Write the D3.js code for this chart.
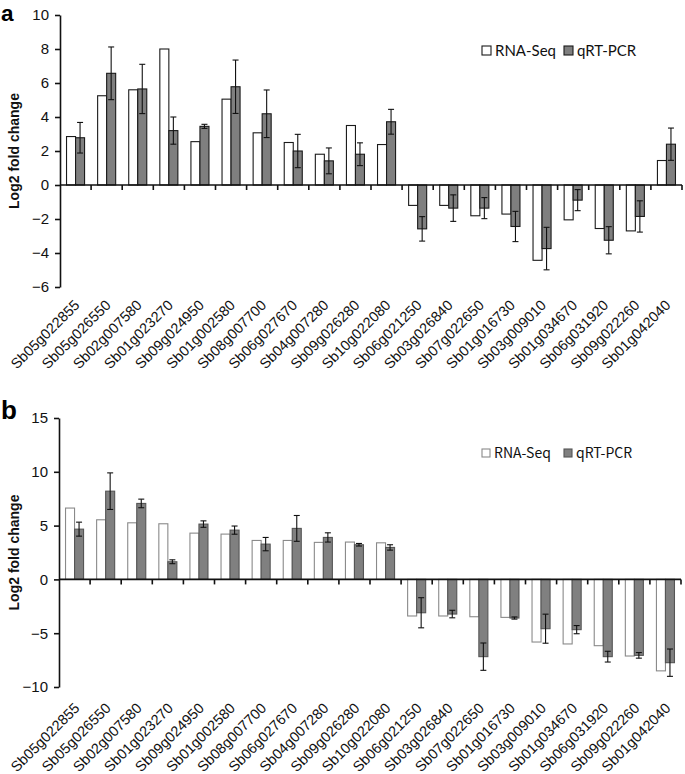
<!DOCTYPE html>
<html><head><meta charset="utf-8">
<script src="https://cdn.jsdelivr.net/npm/d3@7"></script>
<style>body{margin:0;background:#fff}</style>
</head><body>
<script>
const categories = ["Sb05g022855","Sb05g026550","Sb02g007580","Sb01g023270","Sb09g024950","Sb01g002580","Sb08g007700","Sb06g027670","Sb04g007280","Sb09g026280","Sb10g022080","Sb06g021250","Sb03g026840","Sb07g022650","Sb01g016730","Sb03g009010","Sb01g034670","Sb06g031920","Sb09g022260","Sb01g042040"];
const seriesNames = ["RNA-Seq","qRT-PCR"];
// Panel a
const rnaSeqA = [2.85,5.25,5.6,8.0,2.55,5.05,3.07,2.5,1.81,3.5,2.38,-1.2,-1.2,-1.81,-1.71,-4.43,-2.05,-2.56,-2.7,1.44];
const qpcrA   = [2.78,6.57,5.65,3.2,3.45,5.78,4.19,2.0,1.42,1.81,3.72,-2.58,-1.36,-1.36,-2.44,-3.74,-0.89,-3.25,-1.85,2.4];
const qpcrErrA= [0.9,1.55,1.45,0.8,0.12,1.57,1.4,0.98,0.76,0.67,0.73,0.72,0.78,0.62,0.89,1.25,0.62,0.8,0.92,0.95];
const yTicksA = [-6,-4,-2,0,2,4,6,8,10];
// Panel b
const rnaSeqB = [6.63,5.54,5.26,5.17,4.3,4.21,3.62,3.62,3.44,3.47,3.4,-3.4,-3.4,-3.47,-3.53,-5.82,-6.0,-6.16,-7.12,-8.5];
const qpcrB   = [4.67,8.2,7.06,1.64,5.14,4.58,3.28,4.74,3.9,3.22,2.97,-3.1,-3.22,-7.18,-3.59,-4.58,-4.67,-7.18,-7.06,-7.74];
const qpcrErrB= [0.65,1.7,0.4,0.18,0.3,0.38,0.62,1.2,0.43,0.12,0.25,1.4,0.35,1.27,0.1,1.35,0.38,0.5,0.26,1.27];
const yTicksB = [-10,-5,0,5,10,15];

const svg = d3.select("body").append("svg").attr("width",685).attr("height",774);

function panel(o){
  const g = svg.append("g");
  const x = d3.scaleBand().domain(categories).range([o.left,o.right]).padding(0);
  const cw = x.bandwidth();
  const xs = d3.scaleBand().domain(seriesNames).range([cw*0.21, cw*0.79]).padding(0);
  const y = d3.scaleLinear().domain(o.domain).range([o.bottom,o.top]);
  const rows = categories.map((c,i)=>({c, v:[o.rna[i],o.qpcr[i]], e:o.err[i]}));
  rows.forEach(r=>{
    r.v.forEach((v,k)=>{
      g.append("rect")
        .attr("x", x(r.c)+xs(seriesNames[k]))
        .attr("y", y(Math.max(0,v)))
        .attr("width", xs.bandwidth())
        .attr("height", Math.abs(y(v)-y(0)))
        .attr("fill", k===0 ? "#ffffff" : o.qFill)
        .attr("stroke", k===0 ? o.rStroke : o.qStroke)
        .attr("stroke-width", 1.1);
    });
    const cx = x(r.c)+xs("qRT-PCR")+xs.bandwidth()/2;
    const y1 = y(r.v[1]+r.e), y2 = y(r.v[1]-r.e);
    g.append("line").attr("x1",cx).attr("x2",cx).attr("y1",y1).attr("y2",y2).attr("stroke","#111").attr("stroke-width",1.1);
    [y1,y2].forEach(yy=>g.append("line").attr("x1",cx-3).attr("x2",cx+3).attr("y1",yy).attr("y2",yy).attr("stroke","#111").attr("stroke-width",1.1));
  });
  const ya = g.append("g").attr("transform",`translate(${o.left},0)`)
    .call(d3.axisLeft(y).tickValues(o.ticks).tickSize(5).tickSizeOuter(0).tickPadding(6).tickFormat(d3.format("d")));
  ya.selectAll("path,line").attr("stroke","#111").attr("stroke-width",1.6);
  ya.selectAll("text").attr("font-family","Liberation Sans, Arial, sans-serif").attr("font-size",15).attr("fill","#111");
  g.append("line").attr("x1",o.left).attr("x2",o.right).attr("y1",y(0)).attr("y2",y(0)).attr("stroke","#111").attr("stroke-width",1.6);
  categories.forEach(c=>{
    const bx = x(c)+cw;
    g.append("line").attr("x1",bx).attr("x2",bx).attr("y1",y(0)).attr("y2",y(0)+5).attr("stroke","#111").attr("stroke-width",1.6);
  });
  categories.forEach(c=>{
    const ax = x(c)+cw/2+o.labDx, ay = o.bottom+o.labDy;
    g.append("text").attr("transform",`translate(${ax},${ay}) rotate(-45)`)
      .attr("text-anchor","end")
      .attr("font-family","Liberation Sans, Arial, sans-serif").attr("font-size",14.5).attr("fill","#111")
      .text(c);
  });
  g.append("text").attr("transform",`translate(${o.titleX},${(o.top+o.bottom)/2 + o.titleDy}) rotate(-90)`)
    .attr("text-anchor","middle").attr("font-family","Liberation Sans, Arial, sans-serif")
    .attr("font-weight","bold").attr("font-size",14).attr("fill","#111").text("Log2 fold change");
  g.append("text").attr("x",o.letterX).attr("y",o.letterY).attr("font-family","Liberation Sans, Arial, sans-serif")
    .attr("font-weight","bold").attr("font-size",o.letterSize).attr("fill","#000").text(o.letter);
  const lg = g.append("g");
  seriesNames.forEach((s,k)=>{
    lg.append("rect").attr("x",o.legX[k]).attr("y",o.legY-o.sq).attr("width",o.sq).attr("height",o.sq)
      .attr("fill", k===0?"#fff":o.qFill).attr("stroke", k===0?o.rStroke:o.qStroke).attr("stroke-width",1.1);
    lg.append("text").attr("x",o.legX[k]+o.sq+4).attr("y",o.legY+0.5)
      .attr("font-family",o.legFont).attr("font-size",o.legSize).attr("fill","#111").text(s);
  });
}

panel({left:60,right:682,top:15,bottom:287,domain:[-6,10],ticks:yTicksA,
  rna:rnaSeqA,qpcr:qpcrA,err:qpcrErrA,qFill:"#7f7f7f",qStroke:"#1a1a1a",rStroke:"#1a1a1a",
  labDx:5,labDy:19,titleX:19,titleDy:0,letter:"a",letterX:1,letterY:20.5,letterSize:22.5,
  legX:[482,564],legY:55,sq:9,legFont:"Lato, Open Sans, sans-serif",legSize:15});

panel({left:59,right:681,top:418,bottom:687,domain:[-10,15],ticks:yTicksB,
  rna:rnaSeqB,qpcr:qpcrB,err:qpcrErrB,qFill:"#808080",qStroke:"#555",rStroke:"#8a8a8a",
  labDx:6,labDy:22,titleX:19,titleDy:0,letter:"b",letterX:1,letterY:419,letterSize:26,
  legX:[482,564],legY:457,sq:8,legFont:"Noto Sans CJK JP, sans-serif",legSize:14});
</script>
</body></html>
